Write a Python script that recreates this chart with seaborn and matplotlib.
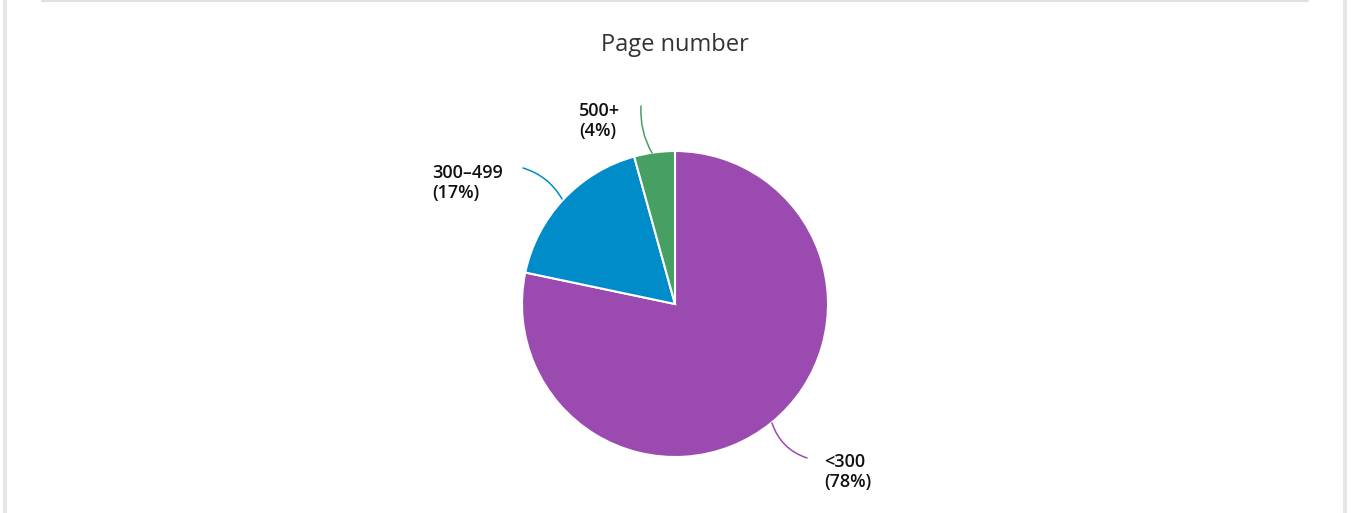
import matplotlib
matplotlib.use("Agg")
import matplotlib.pyplot as plt
import seaborn as sns

# Page number shares (clockwise from 12 o'clock)
categories = ["<300", "300\u2013499", "500+"]
shares = [78.3, 17.4, 4.3]
pct_labels = ["(78%)", "(17%)", "(4%)"]
colors = ["#9b4ab0", "#008cc8", "#479f63"]

sns.set_theme(style="white")
plt.rcParams['font.family'] = ['Open Sans', 'DejaVu Sans']

W, H = 1351, 513
cx, cy, r = 675, 304, 153

fig = plt.figure(figsize=(W / 100, H / 100), dpi=100)
ax = fig.add_axes([0, 0, 1, 1])

palette = sns.color_palette(colors)
wedges, _ = ax.pie(
    shares, colors=palette, startangle=90, counterclock=False,
    radius=1.0, wedgeprops=dict(edgecolor="white", linewidth=1.5)
)

# map pixels to data so the pie sits where it does in the reference
ax.set_xlim(-cx / r, (W - cx) / r)
ax.set_ylim((cy - H) / r, cy / r)
ax.set_aspect("auto")
ax.axis("off")


def px(x, y):
    return ((x - cx) / r, (cy - y) / r)


# label block centre (px), line end (px), line start on the rim (px), curve
label_pos = [(824, 472), (432, 183), (579, 121)]
line_end = [(807, 458), (523, 168), (641, 106)]
line_start = [(772, 423), (562, 199), (652, 153)]
curves = [-0.25, -0.2, 0.15]

for i, w in enumerate(wedges):
    ax.annotate(
        "", xy=px(*line_start[i]), xytext=px(*line_end[i]),
        arrowprops=dict(arrowstyle="-", color=colors[i], lw=1.1,
                        connectionstyle=f"arc3,rad={curves[i]}",
                        shrinkA=0, shrinkB=0)
    )
    tx, ty = px(*label_pos[i])
    ax.text(tx, ty, categories[i] + "\n" + pct_labels[i], fontsize=13,
            fontweight="semibold", color="#111111", ha="left", va="center",
            linespacing=1.2)

ax.text(0, px(0, 45)[1], "Page number", fontsize=17, color="#333333",
        ha="center", va="center")

# page frame: thin grey borders like the host page
fig.add_artist(plt.Line2D([42 / W, 1308 / W], [1 - 1 / H, 1 - 1 / H],
                          color="#e2e2e2", lw=1.6))
fig.add_artist(plt.Line2D([5 / W, 5 / W], [0, 1], color="#e6e6e6", lw=3))
fig.add_artist(plt.Line2D([1345 / W, 1345 / W], [0, 1], color="#e6e6e6", lw=3))

fig.savefig("out.png", dpi=100, facecolor="white")
